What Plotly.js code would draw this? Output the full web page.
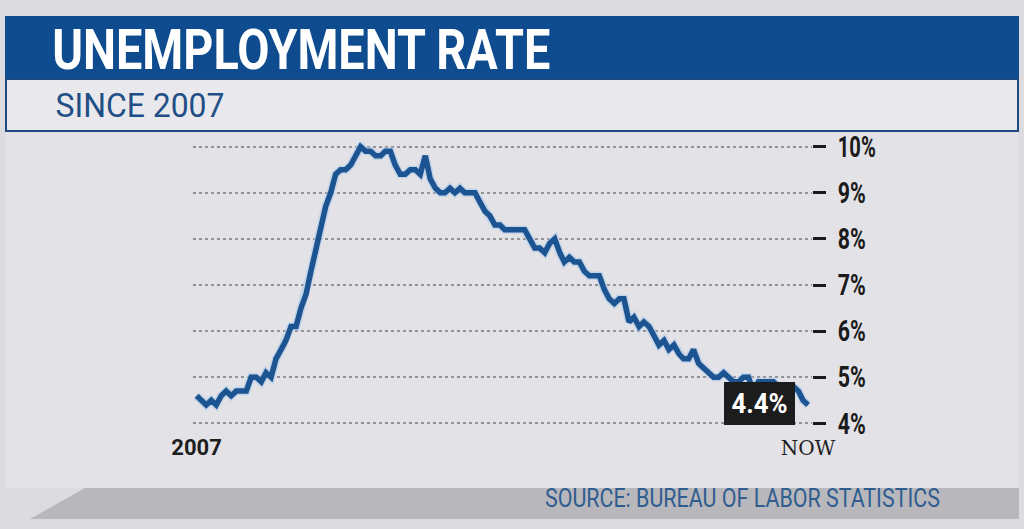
<!DOCTYPE html>
<html>
<head>
<meta charset="utf-8">
<script src="https://cdn.plot.ly/plotly-3.0.1.min.js"></script>
<style>
html,body{margin:0;padding:0;background:#dcdbdf;}
#chart{width:1024px;height:529px;}
</style>
</head>
<body>
<div id="chart"></div>
<script>
// Monthly unemployment rate (%), Jan 2007 – Apr 2017
const startYear = 2007;
const rate2007 = [4.6,4.5,4.4,4.5,4.4,4.6,4.7,4.6,4.7,4.7,4.7,5.0];
const rate2008 = [5.0,4.9,5.1,5.0,5.4,5.6,5.8,6.1,6.1,6.5,6.8,7.3];
const rate2009 = [7.8,8.3,8.7,9.0,9.4,9.5,9.5,9.6,9.8,10.0,9.9,9.9];
const rate2010 = [9.8,9.8,9.9,9.9,9.6,9.4,9.4,9.5,9.5,9.4,9.8,9.3];
const rate2011 = [9.1,9.0,9.0,9.1,9.0,9.1,9.0,9.0,9.0,8.8,8.6,8.5];
const rate2012 = [8.3,8.3,8.2,8.2,8.2,8.2,8.2,8.0,7.8,7.8,7.7,7.9];
const rate2013 = [8.0,7.7,7.5,7.6,7.5,7.5,7.3,7.2,7.2,7.2,6.9,6.7];
const rate2014 = [6.6,6.7,6.7,6.2,6.3,6.1,6.2,6.1,5.9,5.7,5.8,5.6];
const rate2015 = [5.7,5.5,5.4,5.4,5.6,5.3,5.2,5.1,5.0,5.0,5.1,5.0];
const rate2016 = [4.9,4.9,5.0,5.0,4.7,4.9,4.9,4.9,4.9,4.8,4.6,4.7];
const rate2017 = [4.8,4.7,4.5,4.4];

const yTickVals = [4,5,6,7,8,9,10];
const yTickText = ['4%','5%','6%','7%','8%','9%','10%'];
const xTickText = ['2007','NOW'];
const titleText = 'UNEMPLOYMENT RATE';
const subtitleText = 'SINCE 2007';
const sourceText = 'SOURCE: BUREAU OF LABOR STATISTICS';

const rates = [].concat(rate2007,rate2008,rate2009,rate2010,rate2011,rate2012,rate2013,rate2014,rate2015,rate2016,rate2017);
const months = rates.map((_, i) => {
  const y = startYear + Math.floor(i/12);
  const m = (i % 12) + 1;
  return y + '-' + String(m).padStart(2,'0') + '-01';
});
const lastX = months[months.length-1];
const lastY = rates[rates.length-1];

const SANS = 'Roboto, "Noto Sans", "DejaVu Sans", sans-serif';
const SERIF = '"DejaVu Serif", "Liberation Serif", serif';
const BLUE = '#0f4c8f';

// pixel helpers for paper coords (plot area: x 193..812, y 142..428)
const PL = 193, PW = 619, PT = 142, PH = 286;
const px = v => (v - PL) / PW;
const py = v => 1 - (v - PT) / PH;

const traces = [
  {x: months, y: rates, type:'scatter', mode:'lines',
   line:{color:'rgba(170,200,235,0.55)', width:8.5}, hoverinfo:'skip'},
  {x: months, y: rates, type:'scatter', mode:'lines',
   line:{color:'#1c5492', width:5.5}}
];

const layout = {
  width:1024, height:529,
  margin:{l:PL, r:1024-PL-PW, t:PT, b:529-PT-PH},
  paper_bgcolor:'#dcdbdf',
  plot_bgcolor:'rgba(0,0,0,0)',
  showlegend:false,
  font:{family:SANS, color:'#1a1a1a'},
  xaxis:{
    type:'date',
    range:['2006-12-10','2017-04-25'],
    showgrid:false, zeroline:false, showline:false,
    tickvals:[months[0], lastX],
    ticktext:[xTickText[0], xTickText[1]],
    tickfont:{family:SANS, size:21, color:'#1e1e1e'},
    ticks:'', ticklabelstandoff:5
  },
  yaxis:{
    side:'right',
    range:[3.9,10.1],
    tickvals:yTickVals,
    ticktext:yTickText,
    showgrid:true, gridcolor:'#929296', griddash:'dot', gridwidth:2.2,
    zeroline:false, showline:false,
    ticks:'outside', ticklen:13, tickwidth:3, tickcolor:'#1a1a1a',
    tickfont:{family:SANS, size:29, color:'#1a1a1a', weight:'bold'},
    ticklabelstandoff:6
  },
  shapes:[
    {type:'rect', xref:'paper', yref:'paper', layer:'below',
     x0:px(5), x1:px(1019), y0:py(131), y1:py(488),
     fillcolor:'#e3e2e6', line:{width:0}},
    {type:'path', xref:'paper', yref:'paper', layer:'below',
     path:'M '+px(85)+','+py(488)+' L '+px(1019)+','+py(488)+' L '+px(1019)+','+py(519)+' L '+px(30)+','+py(519)+' Z',
     fillcolor:'#b8b7bb', line:{width:0}},
    {type:'rect', xref:'paper', yref:'paper', layer:'below',
     x0:px(5), x1:px(1019), y0:py(16), y1:py(79),
     fillcolor:BLUE, line:{width:0}},
    {type:'rect', xref:'paper', yref:'paper', layer:'below',
     x0:px(6), x1:px(1018), y0:py(79), y1:py(131),
     fillcolor:'#e9e8ec', line:{color:'#1d4a80', width:2}}
  ],
  annotations:[
    {xref:'paper', yref:'paper', x:px(301), y:py(50), xanchor:'center', yanchor:'middle',
     text:titleText, showarrow:false,
     font:{family:SANS, size:56, color:'#ffffff', weight:'bold'}},
    {xref:'paper', yref:'paper', x:px(139.5), y:py(105), xanchor:'center', yanchor:'middle',
     text:subtitleText, showarrow:false,
     font:{family:SANS, size:34, color:'#1f4f86'}},
    {xref:'paper', yref:'paper', x:px(742.5), y:py(498), xanchor:'center', yanchor:'middle',
     text:sourceText, showarrow:false,
     font:{family:SANS, size:25, color:'#2f5d90'}},
    {x:lastX, y:lastY, xref:'x', yref:'y', xanchor:'right', yanchor:'middle',
     xshift:-13, yshift:1,
     text:lastY.toFixed(1)+'%', showarrow:false,
     bgcolor:'#1c1c1c', borderpad:4, bordercolor:'#1c1c1c', borderwidth:1,
     font:{family:SANS, size:28, color:'#ffffff', weight:'bold'}}
  ]
};

const condensedWidths = [498, 169, 395, 56];
const yLabelWidths = {2: 28, 3: 38};

Plotly.newPlot('chart', traces, layout, {displayModeBar:false, staticPlot:true}).then(gd => {
  gd.querySelectorAll('.annotation .annotation-text').forEach((t, i) => {
    const w = condensedWidths[i];
    if (w) {
      t.setAttribute('textLength', w);
      t.setAttribute('lengthAdjust', 'spacingAndGlyphs');
    }
  });
  gd.querySelectorAll('.ytick text').forEach(t => {
    const w = yLabelWidths[t.textContent.length];
    if (w) {
      t.setAttribute('textLength', w);
      t.setAttribute('lengthAdjust', 'spacingAndGlyphs');
    }
  });
  // x labels: "2007" bold sans, "NOW" serif
  gd.querySelectorAll('.xtick text').forEach(t => {
    if (t.textContent === xTickText[0]) {
      t.style.fontWeight = 'bold';
      t.style.fontSize = '22px';
    } else if (t.textContent === xTickText[1]) {
      t.style.fontFamily = SERIF;
      t.style.fontSize = '20px';
    }
  });
});
</script>
</body>
</html>
